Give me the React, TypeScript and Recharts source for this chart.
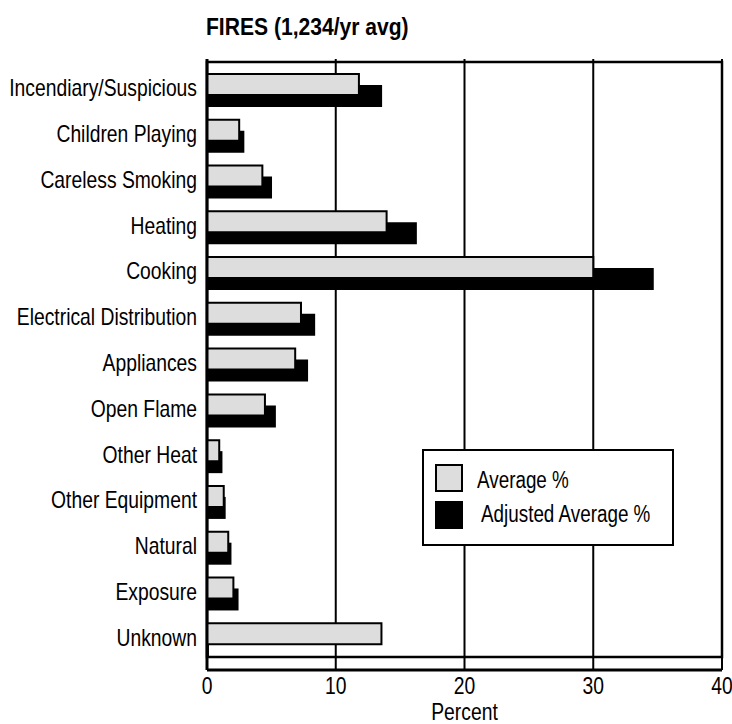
import React from 'react';
import { BarChart, Bar, XAxis, YAxis, CartesianGrid, ReferenceArea, Legend, Label } from 'recharts';

const categories = [
  'Incendiary/Suspicious',
  'Children Playing',
  'Careless Smoking',
  'Heating',
  'Cooking',
  'Electrical Distribution',
  'Appliances',
  'Open Flame',
  'Other Heat',
  'Other Equipment',
  'Natural',
  'Exposure',
  'Unknown',
];
const averagePct = [11.8, 2.5, 4.3, 13.95, 30.0, 7.3, 6.85, 4.5, 0.95, 1.3, 1.65, 2.05, 13.55];
const adjustedPct = [13.6, 2.9, 5.05, 16.3, 34.7, 8.4, 7.85, 5.35, 1.2, 1.45, 1.9, 2.45, 0.15];
const xTicks = [0, 10, 20, 30, 40];
const seriesNames = ['Average %', 'Adjusted Average %'];
const titleText = 'FIRES (1,234/yr avg)';
const xAxisTitle = 'Percent';

const data = categories.map((name, i) => ({ name, avg: averagePct[i], adj: adjustedPct[i] }));

const FONT = "'Liberation Sans', Arial, Helvetica, sans-serif";
const SX = 0.84;
const GRAY = '#dddddd';

const NarrowText = ({ x, y, anchor, sx = SX, size = 23, children }: any) => (
  <g transform={`translate(${x},${y})`}>
    <text
      transform={`scale(${sx},1)`}
      textAnchor={anchor}
      fontSize={size}
      fontFamily={FONT}
      fill="#000"
    >
      {children}
    </text>
  </g>
);

const YTick = (props: any) => {
  const { x, y, payload } = props;
  return <NarrowText x={x} y={y + 11.5} anchor="end">{payload.value}</NarrowText>;
};

const XTick = (props: any) => {
  const { x, y, payload } = props;
  return <NarrowText x={x} y={y + 13.5} anchor="middle">{payload.value}</NarrowText>;
};

const XTitle = (props: any) => {
  const vb = props.viewBox || {};
  const cx = vb.x + vb.width / 2;
  const by = vb.y + vb.height - 4;
  return <NarrowText x={cx} y={by} anchor="middle">{xAxisTitle}</NarrowText>;
};

const LegendBox = () => (
  <svg width={252} height={97} style={{ display: 'block' }}>
    <rect x={1} y={1} width={250} height={95} fill="#fff" stroke="#000" strokeWidth={2} />
    <rect x={14} y={16} width={26} height={26} fill={GRAY} stroke="#000" strokeWidth={2} />
    <rect x={13} y={52} width={28} height={28} fill="#000" />
    <NarrowText x={55} y={39} anchor="start" sx={0.82}>{seriesNames[0]}</NarrowText>
    <NarrowText x={59} y={73} anchor="start" sx={0.82}>{seriesNames[1]}</NarrowText>
  </svg>
);

export default function App() {
  return (
    <div style={{ position: 'absolute', left: 0, top: 0, width: 732, height: 724, background: '#fff', fontFamily: FONT }}>
      <div
        style={{
          position: 'absolute',
          left: 206,
          top: 14,
          fontSize: 24.5,
          lineHeight: '25px',
          fontWeight: 'bold',
          fontFamily: FONT,
          color: '#000',
          whiteSpace: 'nowrap',
          transform: 'scaleX(0.86)',
          transformOrigin: '0 0',
          zIndex: 2,
        }}
      >
        {titleText}
      </div>
      <BarChart
        width={732}
        height={724}
        data={data}
        layout="vertical"
        margin={{ top: 59, right: 10, bottom: 0, left: 0 }}
      >
        <CartesianGrid horizontal={false} vertical stroke="#000" strokeWidth={2} />
        <XAxis
          type="number"
          domain={[0, 40]}
          ticks={xTicks}
          interval={0}
          height={54}
          tickLine={false}
          tickSize={6}
          tickMargin={4}
          axisLine={{ stroke: '#000', strokeWidth: 3 }}
          tick={XTick}
        >
          <Label content={XTitle} position="insideBottom" />
        </XAxis>
        <YAxis
          type="category"
          dataKey="name"
          width={207}
          interval={0}
          tickLine={false}
          tickSize={6}
          tickMargin={4}
          padding={{ top: 3, bottom: 13 }}
          axisLine={{ stroke: '#000', strokeWidth: 3 }}
          tick={YTick}
        />
        <YAxis
          yAxisId="b"
          type="category"
          dataKey="name"
          hide
          padding={{ top: 14, bottom: 2 }}
        />
        <Bar
          yAxisId="b"
          dataKey="adj"
          name={seriesNames[1]}
          fill="#000"
          barSize={22}
          isAnimationActive={false}
        />
        <Bar
          dataKey="avg"
          name={seriesNames[0]}
          fill={GRAY}
          stroke="#000"
          strokeWidth={2}
          barSize={21}
          isAnimationActive={false}
        />
        <ReferenceArea x1={0} x2={40} fill="none" fillOpacity={0} stroke="#000" strokeWidth={2.5} />
        <Legend
          layout="horizontal"
          verticalAlign="middle"
          align="center"
          content={() => <LegendBox />}
          wrapperStyle={{ left: 422, top: 449, width: 252, height: 97 }}
        />
      </BarChart>
    </div>
  );
}
